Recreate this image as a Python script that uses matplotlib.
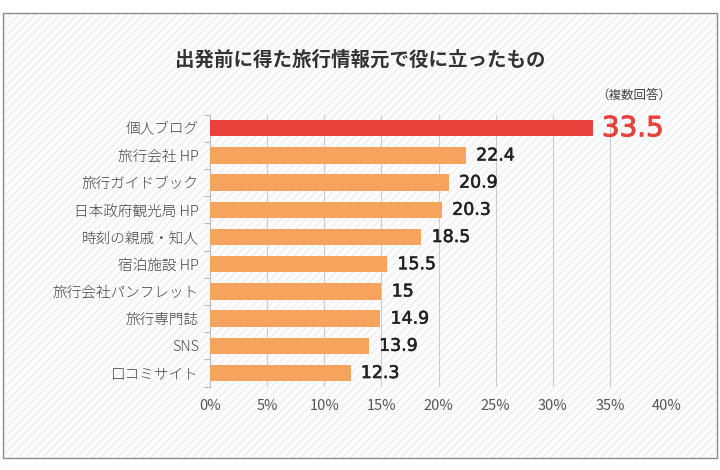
import matplotlib
matplotlib.use("Agg")
import matplotlib.pyplot as plt
import matplotlib.patheffects as pe
from matplotlib.patches import Rectangle

plt.rcParams['font.family'] = ['Noto Sans CJK JP', 'DejaVu Sans']
plt.rcParams['hatch.linewidth'] = 0.8

categories = ['個人ブログ', '旅行会社 HP', '旅行ガイドブック', '日本政府観光局 HP', '時刻の親戚・知人',
              '宿泊施設 HP', '旅行会社パンフレット', '旅行専門誌', 'SNS', '口コミサイト']
values = [33.5, 22.4, 20.9, 20.3, 18.5, 15.5, 15, 14.9, 13.9, 12.3]
value_labels = ['33.5', '22.4', '20.9', '20.3', '18.5', '15.5', '15', '14.9', '13.9', '12.3']
xticks = [0, 5, 10, 15, 20, 25, 30, 35, 40]

red = '#e8403b'
orange = '#f5a35d'

fig = plt.figure(figsize=(7.2, 4.7), dpi=100)

# hatched card background
bg = Rectangle((3 / 720, 12 / 470), 714 / 720, 445 / 470, transform=fig.transFigure,
               facecolor='#fcfcfc', edgecolor='#ececec', hatch='////', linewidth=0, zorder=-2)
fig.patches.append(bg)
border = Rectangle((3 / 720, 12 / 470), 714 / 720, 445 / 470, transform=fig.transFigure,
                   facecolor='none', edgecolor='#8a8a8a', linewidth=1.0, zorder=-1)
fig.patches.append(border)

ax = fig.add_axes([210 / 720, 0.1774, 457 / 720, 0.5787])
ax.patch.set_alpha(0)

colors = [red] + [orange] * (len(values) - 1)
ypos = list(range(len(categories)))
ax.barh(ypos, values, height=0.6, color=colors, zorder=3)

for i, (v, lab) in enumerate(zip(values, value_labels)):
    if i == 0:
        ax.text(v + 0.8, i, lab, va='center', ha='left', fontsize=20, color=red,
                family='DejaVu Sans',
                path_effects=[pe.withStroke(linewidth=0.7, foreground=red)])
    else:
        ax.text(v + 0.9, i, lab, va='center', ha='left', fontsize=12.5, color='#222222',
                family='DejaVu Sans',
                path_effects=[pe.withStroke(linewidth=0.4, foreground='#222222')])

ax.set_xlim(0, 40)
ax.set_ylim(len(categories) - 0.5, -0.5)
ax.set_xticks(xticks)
ax.set_xticklabels([f'{t}%' for t in xticks], fontsize=10.5, color='#555555')
ax.set_yticks(ypos)
ax.set_yticklabels(categories, fontsize=10.5, color='#444444', fontweight='light')
ax.tick_params(axis='y', length=0, pad=8)
ax.tick_params(axis='x', length=0, pad=9)
ax.set_yticks([y + 0.5 for y in range(-1, len(categories))], minor=True)
ax.tick_params(axis='y', which='minor', length=4, color='#bbbbbb', width=0.8)

for t in xticks[1:]:
    ax.axvline(t, color='#cccccc', linewidth=0.8, zorder=1)

for s in ['top', 'right', 'bottom']:
    ax.spines[s].set_visible(False)
ax.spines['left'].set_color('#bbbbbb')
ax.spines['left'].set_linewidth(0.8)

fig.text(360 / 720, 1 - 60 / 470, '出発前に得た旅行情報元で役に立ったもの', ha='center', va='center',
         fontsize=14, fontweight='bold', color='#333333')
fig.text(634 / 720, 1 - 95 / 470, '（複数回答）', ha='center', va='center', fontsize=9, color='#444444')

fig.savefig('out.png', dpi=100)
